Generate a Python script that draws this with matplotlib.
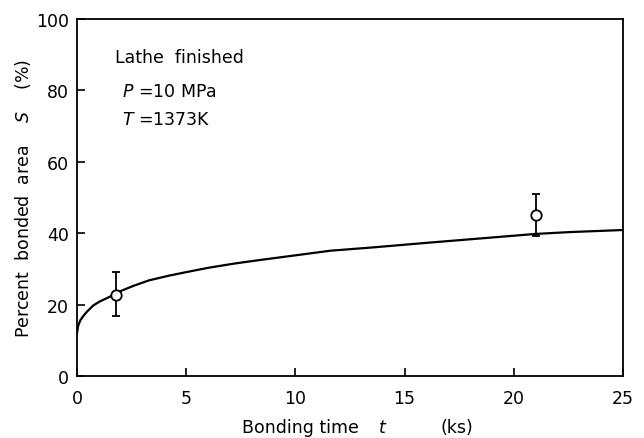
import matplotlib.pyplot as plt
import numpy as np

plt.rcParams['font.family'] = ['DejaVu Sans']
plt.rcParams['mathtext.fontset'] = 'dejavusans'

# fitted curve
curve_t = [0.0, 0.05, 0.15, 0.3, 0.45, 0.75, 1.05, 1.5, 2.0, 2.6, 3.3, 4.2, 5.0, 6.0,
           7.2, 8.5, 10.0, 11.6, 13.5, 16.0, 18.0, 20.0, 21.0, 22.5, 25.0]
curve_s = [12.0, 14.0, 15.6, 16.9, 18.0, 19.8, 20.9, 22.2, 23.8, 25.3, 26.8, 28.1, 29.1, 30.3,
           31.5, 32.6, 33.8, 35.1, 36.0, 37.3, 38.3, 39.3, 39.8, 40.3, 40.9]

# measured points with scatter
meas_t = [1.8, 21.0]
meas_s = [22.8, 45.1]
meas_lo = [16.8, 39.2]
meas_hi = [29.1, 51.0]

fig = plt.figure(figsize=(6.44, 4.39), dpi=100)
ax = fig.add_axes([0.1196, 0.1412, 0.8478, 0.8132])

ax.plot(curve_t, curve_s, color='black', linewidth=1.6)
yerr = [np.subtract(meas_s, meas_lo), np.subtract(meas_hi, meas_s)]
ax.errorbar(meas_t, meas_s, yerr=yerr, fmt='o', color='black', markerfacecolor='white',
            markersize=7.5, markeredgewidth=1.3, elinewidth=1.3, capsize=3, capthick=1.3, zorder=3)

ax.set_xlim(0, 25)
ax.set_ylim(0, 100)
ax.set_xticks([0, 5, 10, 15, 20, 25])
ax.set_yticks([0, 20, 40, 60, 80, 100])
ax.tick_params(direction='in', length=6, width=1.2, labelsize=12.5, colors='black')
ax.tick_params(axis='x', pad=9)
ax.tick_params(axis='y', pad=6)
for s in ax.spines.values():
    s.set_linewidth(1.3)

# axis titles, spaced out like the original
fig.text(242 / 644, 1 - 428 / 439, 'Bonding time', fontsize=12.5, va='center', ha='left')
fig.text(383 / 644, 1 - 428 / 439, r'$t$', fontsize=12.5, va='center', ha='center')
fig.text(440 / 644, 1 - 428 / 439, '(ks)', fontsize=12.5, va='center', ha='left')
ax.set_ylabel(r'Percent  bonded  area    $S$    (%)', fontsize=12.5, labelpad=2)

ax.text(0.07, 0.88, 'Lathe  finished', transform=ax.transAxes, fontsize=12.5)
ax.text(0.083, 0.785, r'$P$ =10 MPa', transform=ax.transAxes, fontsize=12.5)
ax.text(0.083, 0.705, r'$T$ =1373K', transform=ax.transAxes, fontsize=12.5)

fig.savefig('out.png', dpi=100)
